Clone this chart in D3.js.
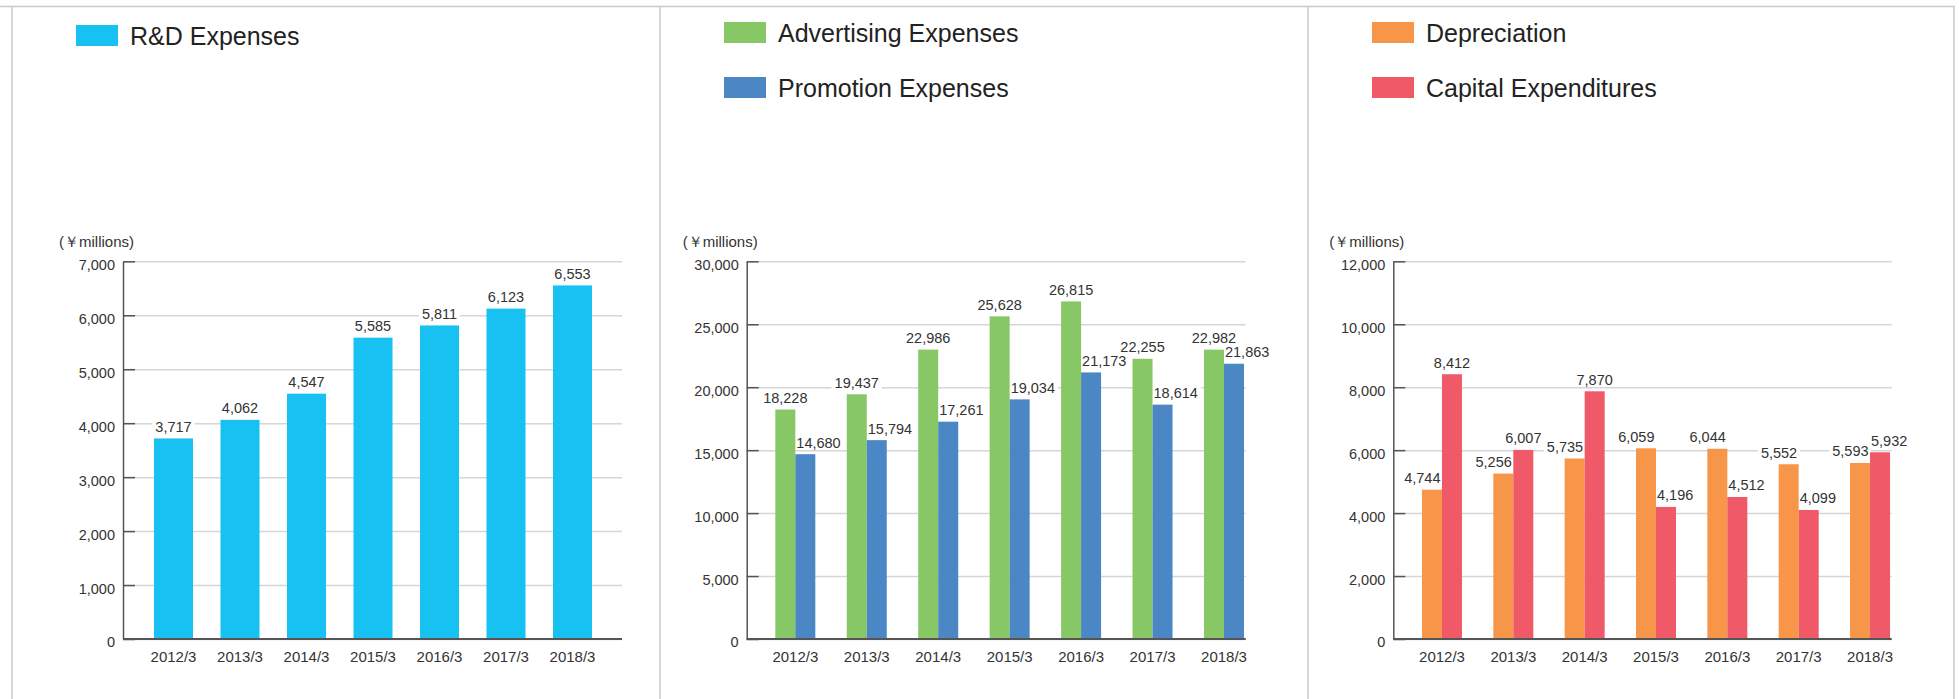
<!DOCTYPE html>
<html>
<head>
<meta charset="utf-8">
<script src="https://cdn.jsdelivr.net/npm/d3@7"></script>
<style>
  html, body { margin: 0; padding: 0; background: #fff; }
  svg { display: block; font-family: "Liberation Sans", Arial, Helvetica, sans-serif; }
</style>
</head>
<body>
<svg id="chart" width="1959" height="699"></svg>
<script>
// Fiscal years shown on every panel
const years = ["2012/3", "2013/3", "2014/3", "2015/3", "2016/3", "2017/3", "2018/3"];

// R&D expenses (¥ millions)
const rdExpenses = [3717, 4062, 4547, 5585, 5811, 6123, 6553];

// Advertising and promotion expenses (¥ millions)
const advertisingExpenses = [18228, 19437, 22986, 25628, 26815, 22255, 22982];
const promotionExpenses = [14680, 15794, 17261, 19034, 21173, 18614, 21863];

// Depreciation and capital expenditures (¥ millions)
const depreciation = [4744, 5256, 5735, 6059, 6044, 5552, 5593];
const capitalExpenditures = [8412, 6007, 7870, 4196, 4512, 4099, 5932];

// Y-axis tick values for each panel
const rdTicks = [0, 1000, 2000, 3000, 4000, 5000, 6000, 7000];
const adTicks = [0, 5000, 10000, 15000, 20000, 25000, 30000];
const capexTicks = [0, 2000, 4000, 6000, 8000, 10000, 12000];

const unitLabel = "(￥millions)";

const svg = d3.select("#chart");
const fmt = d3.format(",");
const TEXT = "#333";
const AXIS = "#555";
const GRID = "#d6d6d6";
const FRAME = "#c9c9c9";

// Panel frame
const frame = svg.append("g");
frame.append("line").attr("x1", 0).attr("x2", 1954).attr("y1", 6.5).attr("y2", 6.5)
  .attr("stroke", FRAME).attr("stroke-width", 1.5);
[12, 660, 1308, 1954].forEach(x => {
  frame.append("line").attr("x1", x).attr("x2", x).attr("y1", 6).attr("y2", 699)
    .attr("stroke", FRAME).attr("stroke-width", 1.5);
});

const yTop = 261.3, yBase = 639;

function drawPanel(cfg) {
  const g = svg.append("g");
  const y = d3.scaleLinear().domain([0, d3.max(cfg.ticks)]).range([yBase, yTop]);
  const x = d3.scaleBand().domain(years).range(cfg.bandRange);

  // Legend
  cfg.series.forEach((s, i) => {
    const ly = cfg.legendY + i * 55;
    g.append("rect").attr("x", cfg.legendX).attr("y", ly).attr("width", 42).attr("height", 21)
      .attr("fill", s.color);
    g.append("text").attr("x", cfg.legendX + 54).attr("y", ly + 19.5)
      .attr("font-size", 25).attr("fill", "#222").text(s.name);
  });

  // Unit label
  g.append("text").attr("x", cfg.axisX - 64).attr("y", 247)
    .attr("font-size", 15).attr("fill", TEXT).text(unitLabel);

  // Horizontal gridlines
  g.append("g").attr("transform", `translate(${cfg.axisX},0)`)
    .call(d3.axisLeft(y).tickValues(cfg.ticks).tickSize(-(cfg.gridEnd - cfg.axisX)).tickFormat(""))
    .call(a => a.select(".domain").remove())
    .call(a => a.selectAll("line").attr("stroke", GRID).attr("stroke-width", 1.5));

  // Y axis with inward ticks
  g.append("g").attr("transform", `translate(${cfg.axisX},0)`)
    .call(d3.axisLeft(y).tickValues(cfg.ticks).tickSize(-12).tickSizeOuter(0).tickPadding(8).tickFormat(fmt))
    .call(a => a.select(".domain").attr("stroke", AXIS).attr("stroke-width", 1.5))
    .call(a => a.selectAll(".tick line").attr("stroke", AXIS).attr("stroke-width", 1.5))
    .call(a => a.selectAll(".tick text").attr("fill", TEXT).attr("font-size", 14.5)
      .attr("font-family", "Liberation Sans, Arial, sans-serif").attr("dy", "0.55em"));

  // Category labels
  g.append("g").attr("transform", `translate(0,${yBase})`)
    .call(d3.axisBottom(x).tickSize(0).tickPadding(12))
    .call(a => a.select(".domain").remove())
    .call(a => a.selectAll(".tick text").attr("fill", TEXT).attr("font-size", 15)
      .attr("font-family", "Liberation Sans, Arial, sans-serif"));

  // Bar geometry
  const n = cfg.series.length;
  const bw = cfg.barWidth;
  const barX = (i, k) => x(years[i]) + x.bandwidth() / 2 - (n * bw) / 2 + k * bw;

  // Value labels: position and anchor
  const labels = [];
  cfg.series.forEach((s, k) => {
    s.values.forEach((v, i) => {
      const bx = barX(i, k);
      let lx = bx + bw / 2, anchor = "middle";
      const mode = cfg.labelMode(k, i);
      if (mode === "end") { lx = bx + bw - 1.5; anchor = "end"; }
      if (mode === "start") { lx = bx + 1; anchor = "start"; }
      labels.push({ v, lx, anchor, ly: y(v) - 6.5 });
    });
  });

  const labelG = g.append("g");
  const barG = g.append("g");
  const textG = g.append("g");

  cfg.series.forEach((s, k) => {
    barG.selectAll(null).data(s.values).join("rect")
      .attr("x", (d, i) => barX(i, k))
      .attr("y", d => y(d))
      .attr("width", bw)
      .attr("height", d => yBase - y(d))
      .attr("fill", s.color);
  });

  // Baseline
  g.append("line").attr("x1", cfg.axisX).attr("x2", cfg.gridEnd).attr("y1", yBase).attr("y2", yBase)
    .attr("stroke", AXIS).attr("stroke-width", 2);

  const texts = textG.selectAll(null).data(labels).join("text")
    .attr("x", d => d.lx).attr("y", d => d.ly)
    .attr("text-anchor", d => d.anchor)
    .attr("font-size", 14.5).attr("fill", TEXT)
    .text(d => fmt(d.v));

  // White backing behind labels so gridlines break around them
  texts.each(function () {
    const b = this.getBBox();
    labelG.append("rect").attr("x", b.x - 3).attr("y", b.y + 1).attr("width", b.width + 6)
      .attr("height", b.height - 2).attr("fill", "#fff");
  });
}

drawPanel({
  axisX: 123, gridEnd: 622, bandRange: [140.25, 605.75], barWidth: 39,
  ticks: rdTicks, legendX: 76, legendY: 25,
  series: [{ name: "R&D Expenses", values: rdExpenses, color: "#17c1f1" }],
  labelMode: () => "middle"
});

drawPanel({
  axisX: 746.7, gridEnd: 1245.7, bandRange: [759.6, 1259.7], barWidth: 20,
  ticks: adTicks, legendX: 724, legendY: 22,
  series: [
    { name: "Advertising Expenses", values: advertisingExpenses, color: "#88c766" },
    { name: "Promotion Expenses", values: promotionExpenses, color: "#4b86c5" }
  ],
  labelMode: k => (k === 0 ? "middle" : "start")
});

drawPanel({
  axisX: 1393.3, gridEnd: 1891.7, bandRange: [1406.3, 1905.7], barWidth: 20,
  ticks: capexTicks, legendX: 1372, legendY: 22,
  series: [
    { name: "Depreciation", values: depreciation, color: "#f79548" },
    { name: "Capital Expenditures", values: capitalExpenditures, color: "#ef5968" }
  ],
  // Capex label sits centred only when it clears the depreciation label
  labelMode: (k, i) => k === 0 ? "end"
    : (capitalExpenditures[i] - depreciation[i] > 600 ? "middle" : "start")
});
</script>
</body>
</html>
